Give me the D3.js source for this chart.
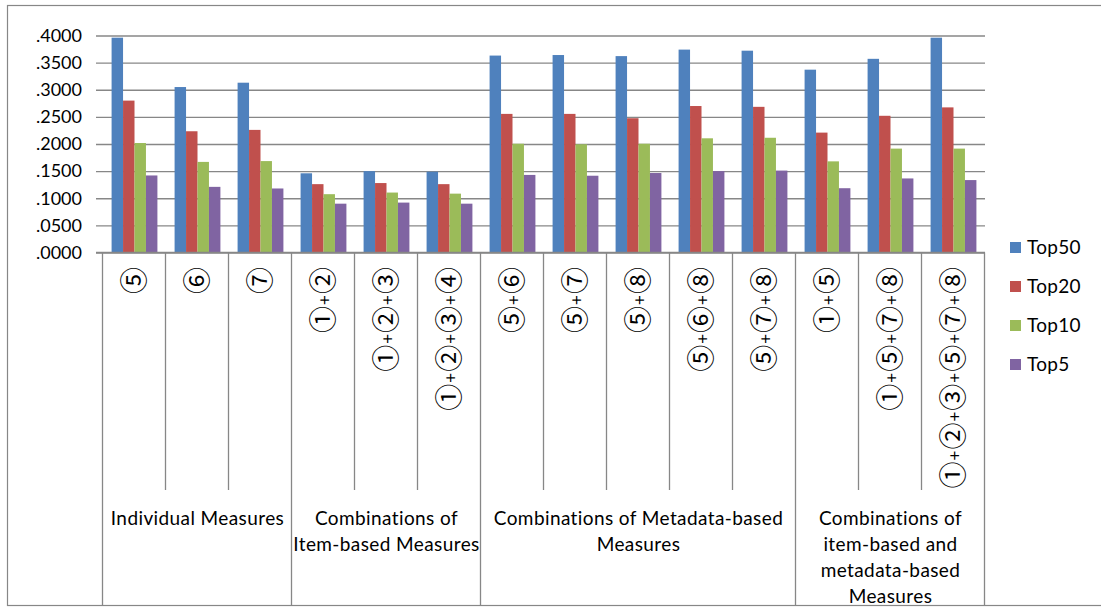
<!DOCTYPE html>
<html>
<head>
<meta charset="utf-8">
<script src="https://cdn.jsdelivr.net/npm/d3@7"></script>
<style>
  html, body { margin: 0; padding: 0; background: #fff; }
  svg { display: block; }
</style>
</head>
<body>
<svg id="chart" width="1101" height="607"></svg>
<script>
// ---- data ----
const categories = ["⑤","⑥","⑦","①+②","①+②+③","①+②+③+④","⑤+⑥","⑤+⑦","⑤+⑧","⑤+⑥+⑧","⑤+⑦+⑧","①+⑤","①+⑤+⑦+⑧","①+②+③+⑤+⑦+⑧"];
const groupLabels = [
  ["Individual Measures"],
  ["Combinations of", "Item-based Measures"],
  ["Combinations of Metadata-based", "Measures"],
  ["Combinations of", "item-based and", "metadata-based", "Measures"]
];
const groupSizes = [3, 3, 5, 3];
const seriesNames = ["Top50", "Top20", "Top10", "Top5"];
const top50 = [0.396, 0.305, 0.313, 0.146, 0.150, 0.149, 0.363, 0.364, 0.362, 0.374, 0.372, 0.337, 0.357, 0.396];
const top20 = [0.280, 0.2235, 0.226, 0.126, 0.128, 0.126, 0.2555, 0.2555, 0.2475, 0.270, 0.2685, 0.221, 0.252, 0.2675];
const top10 = [0.2018, 0.167, 0.1685, 0.1075, 0.1105, 0.1085, 0.2005, 0.1995, 0.2005, 0.2105, 0.2115, 0.168, 0.1915, 0.1915];
const top5  = [0.142, 0.121, 0.118, 0.090, 0.092, 0.090, 0.143, 0.1415, 0.1465, 0.150, 0.151, 0.1185, 0.1365, 0.1335];
const yTickValues = [0, 0.05, 0.10, 0.15, 0.20, 0.25, 0.30, 0.35, 0.40];
const colors = ["#4F81BD", "#C0504D", "#9BBB59", "#8064A2"];

const seriesValues = [top50, top20, top10, top5];
const FONT = "Lato, 'Open Sans', sans-serif";
const CJK = "'Noto Sans CJK JP', 'DejaVu Sans', sans-serif";
const GRID = "#878787";

const svg = d3.select("#chart");

// outer border
svg.append("rect")
  .attr("x", 7.5).attr("y", 5.5).attr("width", 1200).attr("height", 600)
  .attr("fill", "none").attr("stroke", GRID).attr("stroke-width", 1.2);

const plotLeft = 103, plotRight = 985, y0 = 252.5, yTop = 35.5;
const x = d3.scaleBand().domain(categories.map((d, i) => i)).range([plotLeft, plotRight]).paddingInner(0).paddingOuter(0);
const xs = d3.scaleBand().domain(seriesNames).range([0, x.bandwidth()]).paddingInner(0).paddingOuter(0.75);
const y = d3.scaleLinear().domain([0, 0.4]).range([y0, yTop]);

// gridlines + y labels via axis
const fmt = v => d3.format(".4f")(v).replace(/^0/, "");
const yAxis = d3.axisLeft(y).tickValues(yTickValues).tickFormat(fmt)
  .tickSize(-(plotRight - plotLeft)).tickPadding(14);
const gy = svg.append("g").attr("transform", `translate(${plotLeft},0)`).call(yAxis);
gy.select(".domain").remove();
gy.selectAll(".tick line").attr("stroke", GRID).attr("stroke-width", 1.3).attr("x1", -7);
gy.selectAll(".tick text").attr("font-family", FONT).attr("font-size", 18).attr("fill", "#000").attr("x", -21);

// bars
const barG = svg.append("g");
seriesNames.forEach((s, si) => {
  barG.selectAll(null).data(seriesValues[si]).enter().append("rect")
    .attr("x", (d, i) => x(i) + xs(s))
    .attr("width", xs.bandwidth())
    .attr("y", d => y(d))
    .attr("height", d => y(0) - y(d))
    .attr("fill", colors[si]);
});

// category axis baseline
svg.append("line").attr("x1", 96).attr("x2", plotRight).attr("y1", y0).attr("y2", y0)
  .attr("stroke", GRID).attr("stroke-width", 1.3);

// separators
const groupBounds = [0];
groupSizes.forEach(n => groupBounds.push(groupBounds[groupBounds.length - 1] + n));
for (let i = 0; i <= categories.length; i++) {
  const xp = i < categories.length ? x(i) : plotRight;
  const isGroup = groupBounds.includes(i);
  svg.append("line")
    .attr("x1", Math.round(xp) - 0.5).attr("x2", Math.round(xp) - 0.5)
    .attr("y1", y0).attr("y2", isGroup ? 606 : 490)
    .attr("stroke", GRID).attr("stroke-width", 1.3);
}

// rotated category labels
const CS = 27;
categories.forEach((c, i) => {
  const cx = x(i) + x.bandwidth() / 2;
  const t = svg.append("text")
    .attr("transform", `translate(${cx},267) rotate(-90)`)
    .attr("text-anchor", "end")
    .attr("y", 0.36 * CS)
    .attr("fill", "#000");
  const parts = c.split("+");
  const pdy = 2.5;
  parts.forEach((p, pi) => {
    if (pi > 0) {
      t.append("tspan").attr("font-family", FONT).attr("font-size", 17)
        .attr("dx", 1).attr("dy", -pdy).text("+");
    }
    t.append("tspan").attr("font-family", CJK).attr("font-size", CS)
      .attr("dx", pi > 0 ? 1 : 0).attr("dy", pi > 0 ? pdy : 0).text(p);
  });
});

// group labels
let start = 0;
groupLabels.forEach((lines, gi) => {
  const end = start + groupSizes[gi];
  const x1 = x(start);
  const x2 = end < categories.length ? x(end) : plotRight;
  const cx = (x1 + x2) / 2;
  lines.forEach((ln, li) => {
    svg.append("text")
      .attr("x", cx).attr("y", 525 + li * 26)
      .attr("text-anchor", "middle")
      .attr("font-family", FONT).attr("font-size", 19).attr("letter-spacing", 0.4)
      .attr("fill", "#000").text(ln);
  });
  start = end;
});

// legend
const lg = svg.append("g");
seriesNames.forEach((s, si) => {
  const yy = 253 + si * 39;
  lg.append("rect").attr("x", 1010).attr("y", yy - 11).attr("width", 11).attr("height", 11).attr("fill", colors[si]);
  lg.append("text").attr("x", 1027).attr("y", yy + 1)
    .attr("font-family", FONT).attr("font-size", 19).attr("letter-spacing", 0.3).attr("fill", "#000").text(s);
});
</script>
</body>
</html>
